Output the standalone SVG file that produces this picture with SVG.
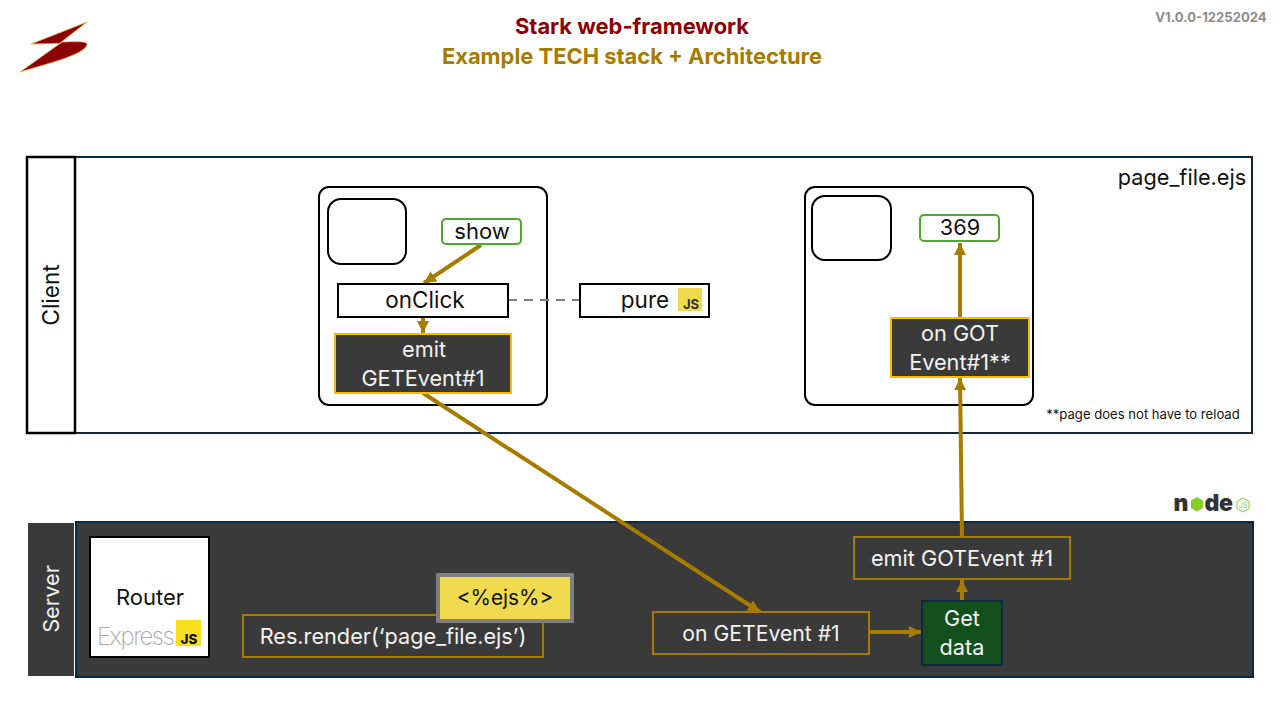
<svg xmlns="http://www.w3.org/2000/svg" width="1280" height="720" viewBox="0 0 1280 720">
<style>
text{font-family:"Inter","Noto Sans","Liberation Sans",sans-serif;text-anchor:middle;font-size:21.700px;fill:#111}
.w{fill:#f2f2f2}
.box{fill:#fff;stroke:#000;stroke-width:2}
.group{fill:#fff;stroke:#000;stroke-width:2}
.green{fill:#fff;stroke:#4ea72e;stroke-width:2}
.dark{fill:#3a3a3a;stroke:#ffb900;stroke-width:2}
.gold{fill:#3a3a3a;stroke:#a67c00;stroke-width:2}
.c{fill:none;stroke:#a67c00;stroke-width:4}
.nl{font-size:23px;font-weight:900;fill:#333}
</style>
<defs>
<marker id="arrow" markerUnits="userSpaceOnUse" markerWidth="14" markerHeight="12" refX="12" refY="6" orient="auto"><path d="M0,0L12,6L0,12z" fill="#a67c00"/></marker>
</defs>
<g id="logo"><path d="M87,22L31,44L60,43.500L20,72C50,63 83,55 87,45C88,41 78,41.500 62,42L60,43.500L60,43z" fill="#8b0000" stroke="#e0bd60" stroke-width="0.800"/></g>
<g id="title">
<text x="632" y="34" style="font-size:21.900px;font-weight:700;fill:#8b0000">Stark web-framework</text>
<text x="632" y="64" style="font-size:21.900px;font-weight:700;fill:#a67c00">Example TECH stack + Architecture</text>
<text x="1211" y="22" style="font-size:13.100px;font-weight:700;fill:#8c8c8c">V1.0.0-12252024</text>
</g>
<g id="client">
<rect x="27" y="157" width="1225" height="276" fill="#fff" stroke="#0e2841" stroke-width="2"/>
<rect x="27" y="157" width="48" height="276" fill="#fff" stroke="#000" stroke-width="2.500"/>
<text transform="translate(59 295) rotate(-90)" style="font-size:22.500px">Client</text>
<text x="1182" y="185">page_file.ejs</text>
<text x="1143" y="419" style="font-size:13.100px">**page does not have to reload</text>
</g>
<g id="server">
<rect x="28" y="523" width="46" height="153" fill="#3a3a3a"/>
<text class="w" transform="translate(59 599) rotate(-90)">Server</text>
<rect x="76" y="522" width="1177" height="155" fill="#3a3a3a" stroke="#0e2841" stroke-width="2"/>
</g>
<g id="group-left"><rect class="group" x="319" y="187" width="228" height="218" rx="10"/><rect class="group" x="328" y="199" width="78" height="65" rx="13"/></g>
<g id="group-right"><rect class="group" x="805" y="187" width="228" height="218" rx="10"/><rect class="group" x="812" y="196" width="79" height="64" rx="13"/></g>
<g id="connectors">
<path class="c" d="M481,245L424,283" marker-end="url(#arrow)"/>
<path class="c" d="M423,318V333" marker-end="url(#arrow)"/>
<path d="M508,300H580" fill="none" stroke="#7f7f7f" stroke-width="2" stroke-dasharray="9 7"/>
<path class="c" d="M423,393L760,612" marker-end="url(#arrow)"/>
<path class="c" d="M870,632H921" marker-end="url(#arrow)"/>
<path class="c" d="M962,601V580" marker-end="url(#arrow)"/>
<path class="c" d="M962,537L960,378" marker-end="url(#arrow)"/>
<path class="c" d="M960,318V243" marker-end="url(#arrow)"/>
</g>
<g id="show"><rect class="green" x="442" y="219" width="79" height="25" rx="4"/><text x="482" y="239" style="font-size:22px">show</text></g>
<g id="onclick"><rect class="box" x="338" y="284" width="170" height="33"/><text x="425" y="308" style="font-size:22.500px">onClick</text></g>
<g id="pure"><rect class="box" x="580" y="284" width="129" height="33"/><text x="645" y="308" style="font-size:22.500px">pure</text><rect x="678" y="288" width="24" height="23" fill="#f0db4f"/><text x="691" y="309" style="font-size:13px;font-weight:700;fill:#323330">JS</text></g>
<g id="emit-get"><rect class="dark" x="335" y="334" width="176" height="59"/><text class="w" x="424" y="357">emit</text><text class="w" x="423" y="386">GETEvent#1</text></g>
<g id="value"><rect class="green" x="920" y="215" width="79" height="26" rx="4"/><text x="960" y="235">369</text></g>
<g id="on-got"><rect class="dark" x="891" y="318" width="138" height="59"/><text class="w" x="960" y="341">on GOT</text><text class="w" x="960" y="370">Event#1**</text></g>
<g id="router"><rect x="90" y="537" width="119" height="120" fill="#fff" stroke="#000" stroke-width="2"/><text x="150" y="605" style="font-size:22px">Router</text><text x="135" y="645" style="font-size:24px;font-weight:200;fill:#a8a8a8;letter-spacing:-1.500px">Express</text><rect x="176" y="620" width="25" height="26" fill="#f7df1e"/><text x="189" y="644" style="font-size:13.500px;font-weight:800">JS</text></g>
<g id="render"><rect class="gold" x="243" y="615" width="300" height="42"/><text class="w" x="393" y="644">Res.render(‘page_file.ejs’)</text></g>
<g id="ejs"><rect x="438" y="575" width="134" height="46" fill="#f0db4f" stroke="#7f7f7f" stroke-width="4"/><text x="505" y="605" style="font-size:20.800px">&lt;%ejs%&gt;</text></g>
<g id="on-get"><rect class="gold" x="653" y="612" width="216" height="42"/><text class="w" x="761" y="641" style="font-size:21.200px">on GETEvent #1</text></g>
<g id="emit-got"><rect class="gold" x="854" y="537" width="216" height="42"/><text class="w" x="962" y="566">emit GOTEvent #1</text></g>
<g id="get-data"><rect x="922" y="601" width="80" height="64" fill="#14501e" stroke="#0e2841" stroke-width="2"/><text class="w" x="962" y="626">Get</text><text class="w" x="962" y="655">data</text></g>
<g id="node-logo"><text class="nl" x="1181" y="511">n</text><polygon points="1197,497 1203,500.500 1203,508 1197,511.500 1191,508 1191,500.500" fill="#83cd29"/><text class="nl" x="1212" y="511">d</text><text class="nl" x="1226" y="511">e</text><polygon points="1243,498 1249,501.500 1249,508.500 1243,512 1237,508.500 1237,501.500" fill="none" stroke="#83cd29" stroke-width="1"/><text x="1243" y="508" style="font-size:7px;fill:#83cd29">JS</text></g>
</svg>
